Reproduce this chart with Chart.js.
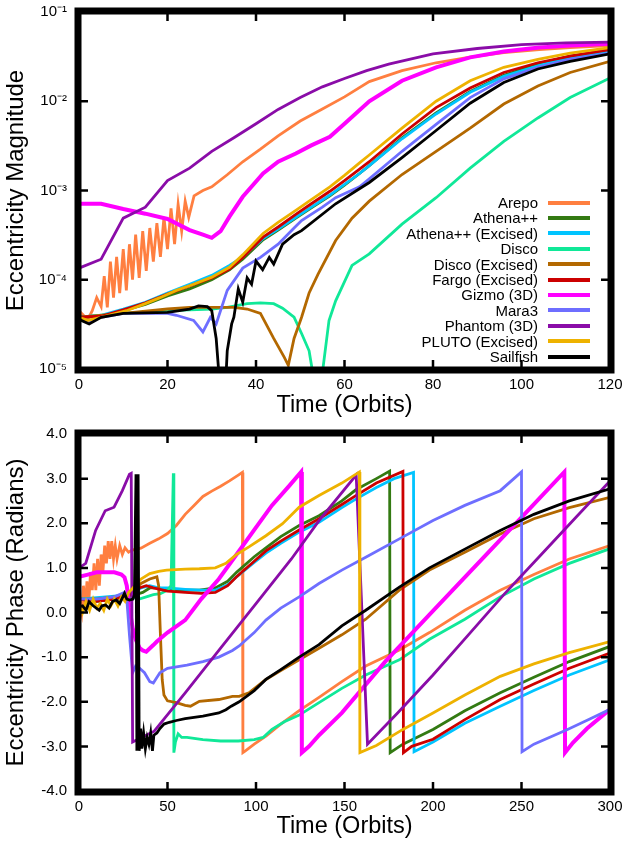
<!DOCTYPE html>
<html>
<head>
<meta charset="utf-8">
<title>Eccentricity magnitude and phase</title>
<script src="https://cdn.jsdelivr.net/npm/chart.js@4.4.0/dist/chart.umd.min.js"></script>
<style>
  body { margin: 0; background: #fff; }
  #wrap { position: relative; width: 623px; height: 845px; font-family: "Liberation Sans", Arial, sans-serif; }
  #magChart { position: absolute; left: 0; top: 0; }
  #phaseChart { position: absolute; left: 0; top: 420px; }
  #legend { position: absolute; right: 33px; top: 195px; }
  .row { display: flex; justify-content: flex-end; align-items: center; height: 15.4px; font-size: 15px; line-height: 15.4px; color: #000; white-space: nowrap; }
  .swatch { width: 42px; height: 4px; margin-left: 10px; }
</style>
</head>
<body>
<div id="wrap">
  <canvas id="magChart" width="623" height="420"></canvas>
  <canvas id="phaseChart" width="623" height="425"></canvas>
  <div id="legend"></div>
</div>
<script>
// ---- series names and colours (legend order) ----
const seriesNames = ['Arepo', 'Athena++', 'Athena++ (Excised)', 'Disco', 'Disco (Excised)', 'Fargo (Excised)',
                     'Gizmo (3D)', 'Mara3', 'Phantom (3D)', 'PLUTO (Excised)', 'Sailfish'];
const seriesColors = ['#ff7f40', '#337a12', '#00c4ff', '#10e898', '#b36800', '#cc0000',
                      '#ff00ff', '#6e6eff', '#8a0ca8', '#eeb200', '#000000'];

// ---- tick values / labels ----
const magXTicks = [0, 20, 40, 60, 80, 100, 120];
const magYTicks = [1e-5, 1e-4, 1e-3, 1e-2, 1e-1];
const magYLabels = ['10⁻⁵', '10⁻⁴', '10⁻³', '10⁻²', '10⁻¹'];
const phaseXTicks = [0, 50, 100, 150, 200, 250, 300];
const phaseYTicks = [-4, -3, -2, -1, 0, 1, 2, 3, 4];
const phaseYLabels = ['-4.0', '-3.0', '-2.0', '-1.0', '0.0', '1.0', '2.0', '3.0', '4.0'];

// ---- top panel: eccentricity magnitude, [time (orbits), |e|] ----
const arepoMag = [[0,4.5e-5],[1,4.0e-5],[2,3.6e-5],[3,4.5e-5],[4,6.3e-5],[5,5.0e-5],[5.7,1.1e-4],[6.4,4.9e-5],[7.1,1.6e-4],[7.8,6.3e-5],[8.5,1.8e-4],[9.2,7.1e-5],[10,2.2e-4],[10.7,7.6e-5],[11.4,2.5e-4],[12.1,1.0e-4],[12.8,3.2e-4],[13.6,1.05e-4],[14.4,3.5e-4],[15.2,1.26e-4],[16,3.8e-4],[16.8,1.6e-4],[17.6,4.3e-4],[18.4,1.8e-4],[19.2,5.0e-4],[20,2.2e-4],[20.8,6.3e-4],[21.6,2.5e-4],[22.4,7.0e-4],[23.2,3.5e-4],[24,7.6e-4],[24.8,5.0e-4],[26,8.7e-4],[28,1.0e-3],[30,1.1e-3],[33.5,1.5e-3],[37,2.1e-3],[41,2.9e-3],[45,4.1e-3],[50,6.0e-3],[55,8.2e-3],[60,1.12e-2],[65.6,1.66e-2],[73,2.2e-2],[80.7,2.7e-2],[88,3.1e-2],[96,3.5e-2],[104,3.8e-2],[111,4.0e-2],[120,4.2e-2]];
const athenaMag = [[0,3.8e-5],[5,3.9e-5],[10,4.5e-5],[15,5.3e-5],[20,6.6e-5],[25,7.9e-5],[30,1.0e-4],[34,1.29e-4],[37,1.7e-4],[41.6,2.8e-4],[45,3.6e-4],[49,4.9e-4],[52.5,6.4e-4],[56.7,8.7e-4],[60,1.15e-3],[63.4,1.55e-3],[65.6,1.9e-3],[73,3.9e-3],[80.7,7.4e-3],[88.4,1.29e-2],[96,1.95e-2],[103.7,2.6e-2],[111,3.2e-2],[120,3.7e-2]];
const athenaExMag = [[0,3.8e-5],[5,4.0e-5],[10,4.7e-5],[15,5.6e-5],[20,7.1e-5],[25,8.9e-5],[30,1.12e-4],[34,1.45e-4],[37,1.8e-4],[41.6,2.9e-4],[45,3.7e-4],[49,5.0e-4],[52.5,6.5e-4],[56.7,8.9e-4],[60,1.17e-3],[63.4,1.55e-3],[65.6,1.9e-3],[73,3.8e-3],[80.7,7.2e-3],[88.4,1.26e-2],[96,1.9e-2],[103.7,2.5e-2],[111,3.1e-2],[120,3.6e-2]];
const discoMag = [[0,3.8e-5],[10,4.2e-5],[20,4.5e-5],[30,4.7e-5],[33.5,4.9e-5],[38,5.4e-5],[41,5.5e-5],[44,5.4e-5],[46,4.8e-5],[48.6,3.8e-5],[50.3,2.5e-5],[52,1.6e-5],[53,8e-6],[54,5e-6],[55,9e-6],[56.5,3.5e-5],[58,5.8e-5],[61.7,1.45e-4],[65.6,1.95e-4],[73,4.2e-4],[80.7,8.3e-4],[88.4,1.78e-3],[96,3.55e-3],[103.7,6.5e-3],[111,1.1e-2],[120,1.82e-2]];
const discoExMag = [[0,3.8e-5],[10,4.2e-5],[20,4.7e-5],[25,4.9e-5],[30,4.9e-5],[35,4.9e-5],[38,4.7e-5],[41,4.2e-5],[44,2.2e-5],[46.4,1.35e-5],[47.3,1.1e-5],[48.6,2.2e-5],[50.3,3.8e-5],[52,7.1e-5],[54,1.15e-4],[58,2.75e-4],[61.7,4.9e-4],[65.6,7.6e-4],[73,1.51e-3],[80.7,2.75e-3],[88.4,5.0e-3],[96,9.3e-3],[103.7,1.48e-2],[111,2.1e-2],[120,2.8e-2]];
const fargoMag = [[0,3.8e-5],[5,3.9e-5],[10,4.6e-5],[15,5.5e-5],[20,6.9e-5],[25,8.5e-5],[30,1.05e-4],[34,1.32e-4],[37,1.78e-4],[41.6,3.0e-4],[45,3.9e-4],[49,5.4e-4],[52.5,7.1e-4],[56.7,9.8e-4],[60,1.29e-3],[63.4,1.74e-3],[65.6,2.1e-3],[73,4.3e-3],[80.7,8.5e-3],[88.4,1.41e-2],[96,2.1e-2],[103.7,2.7e-2],[111,3.2e-2],[120,3.8e-2]];
const gizmoMag = [[0,7.1e-4],[5,7.1e-4],[10,6.2e-4],[15,5.5e-4],[20,4.8e-4],[25,3.6e-4],[28,3.2e-4],[30,2.95e-4],[32,3.5e-4],[34,5.1e-4],[37,8.5e-4],[41.6,1.55e-3],[45,2.1e-3],[49,2.6e-3],[52.5,3.2e-3],[56.7,4.0e-3],[60,5.6e-3],[65.6,1.0e-2],[73,1.7e-2],[80.7,2.4e-2],[88.4,3.1e-2],[96,3.6e-2],[104,4.0e-2],[111,4.2e-2],[120,4.4e-2]];
const mara3Mag = [[0,3.8e-5],[2,3.3e-5],[5,3.8e-5],[10,4.2e-5],[15,4.2e-5],[20,4.2e-5],[22,4.0e-5],[25.9,3.5e-5],[28,2.6e-5],[29.7,3.8e-5],[31,3.2e-5],[33.5,7.6e-5],[37,1.35e-4],[41,1.78e-4],[45,2.5e-4],[48.6,3.8e-4],[50.3,4.6e-4],[55,6.5e-4],[58,8.3e-4],[63.4,1.1e-3],[65.6,1.35e-3],[73,2.75e-3],[80.7,5.5e-3],[88.4,1.1e-2],[96,1.78e-2],[103.7,2.4e-2],[111,2.95e-2],[120,3.47e-2]];
const phantomMag = [[0,1.35e-4],[5,1.7e-4],[10,4.9e-4],[15,6.5e-4],[20,1.29e-3],[25,1.78e-3],[30,2.75e-3],[35,3.9e-3],[40,5.6e-3],[45,8.1e-3],[50,1.1e-2],[55,1.45e-2],[60,1.8e-2],[65,2.2e-2],[70,2.6e-2],[80,3.4e-2],[90,3.9e-2],[100,4.3e-2],[110,4.5e-2],[120,4.6e-2]];
const plutoMag = [[0,3.8e-5],[2,3.5e-5],[5,3.8e-5],[10.7,4.5e-5],[15,5.4e-5],[18.3,6.3e-5],[22,7.6e-5],[25.9,8.9e-5],[30,1.07e-4],[34,1.38e-4],[37,1.9e-4],[41.6,3.3e-4],[45,4.4e-4],[49,6.0e-4],[52.5,7.9e-4],[56.7,1.1e-3],[60,1.48e-3],[63.4,2.04e-3],[65.6,2.5e-3],[73,5.0e-3],[80.7,1.0e-2],[88.4,1.7e-2],[96,2.4e-2],[103.7,2.95e-2],[111,3.47e-2],[120,4.0e-2]];
const sailfishMag = [[0,3.6e-5],[2.3,3.2e-5],[5,3.8e-5],[10,4.2e-5],[20,4.3e-5],[25,4.7e-5],[27,5.1e-5],[29,5.0e-5],[30,4.5e-5],[31,2.2e-5],[32,5e-6],[33,5e-6],[33.5,1.6e-5],[34.5,3.2e-5],[35,3.8e-5],[36,7.9e-5],[37,5.6e-5],[38,1.05e-4],[39,8.9e-5],[40,1.62e-4],[41.5,1.3e-4],[43,1.78e-4],[44,1.5e-4],[46,2.5e-4],[48.6,3.2e-4],[50.3,3.55e-4],[58,7.1e-4],[65.6,1.23e-3],[73,2.34e-3],[80.7,4.7e-3],[88.4,9.5e-3],[96,1.62e-2],[103.7,2.3e-2],[111,2.8e-2],[120,3.4e-2]];

// ---- bottom panel: eccentricity phase, [time (orbits), radians] ----
const arepoPhase = [[0,0.3],[1.5,0.0],[2.5,0.6],[3.5,0.1],[4.5,0.7],[5.5,0.2],[6.5,0.9],[7.5,0.5],[8.5,1.1],[9.5,0.5],[10.5,1.2],[11.5,0.6],[12.5,1.3],[13.5,0.9],[14.5,1.5],[15.5,1.1],[16.5,1.6],[17.5,1.2],[18.5,1.6],[19.5,1.2],[20.5,1.5],[21.5,1.2],[23,1.5],[24.5,1.3],[26,1.45],[28,1.35],[30,1.4],[35,1.44],[40,1.55],[45,1.65],[50,1.77],[55,1.95],[60,2.2],[65,2.4],[70,2.6],[75,2.72],[80,2.83],[85,2.95],[90,3.08],[92.3,3.14],[92.6,-3.14],[94,-3.1],[99,-2.95],[105.6,-2.77],[114,-2.5],[124.4,-2.2],[135.6,-1.9],[148.5,-1.55],[162,-1.2],[181,-0.84],[198,-0.45],[218,0.05],[238,0.5],[257,0.85],[277,1.2],[300,1.5]];
const athenaPhase = [[0,0.3],[10,0.25],[20,0.3],[28,0.4],[32,0.4],[36,0.45],[40,0.55],[45,0.55],[50,0.5],[60,0.5],[68,0.5],[77,0.55],[84,0.7],[89,0.9],[99,1.25],[105.6,1.45],[114,1.7],[124.4,1.95],[135.6,2.17],[148.5,2.5],[156.4,2.75],[168,3.0],[175.5,3.17],[175.8,-3.14],[183,-2.95],[200,-2.62],[218,-2.2],[238,-1.8],[257,-1.45],[277,-1.1],[300,-0.76]];
const athenaExPhase = [[0,0.3],[30,0.4],[35,0.55],[40,0.6],[45,0.55],[50,0.55],[60,0.52],[69,0.5],[77,0.5],[84,0.62],[89,0.8],[99,1.12],[105.6,1.33],[114,1.55],[124.4,1.8],[135.6,2.02],[148.5,2.35],[156.4,2.54],[168,2.8],[178,3.0],[189,3.14],[189.3,-3.12],[200,-2.9],[218,-2.48],[238,-2.1],[257,-1.75],[277,-1.4],[300,-1.06]];
const discoPhase = [[0,0.3],[10,0.3],[20,0.3],[30,0.35],[34,0.3],[38,0.35],[42,0.4],[46,0.42],[50,0.5],[52,0.6],[53.3,3.12],[53.6,-3.14],[54.5,-2.9],[56,-2.72],[58,-2.8],[61,-2.8],[65,-2.82],[70,-2.85],[80,-2.88],[90,-2.88],[99,-2.85],[104,-2.8],[109,-2.62],[116,-2.45],[124.4,-2.3],[135.6,-2.02],[148.5,-1.7],[162,-1.4],[181,-1.06],[198,-0.6],[218,-0.15],[238,0.35],[257,0.75],[277,1.1],[300,1.43]];
const discoExPhase = [[0,0.3],[10,0.3],[20,0.35],[30,0.45],[35,0.65],[40,0.75],[44,0.8],[45,0.6],[46,-0.5],[47,-1.5],[48,-1.85],[50,-1.98],[55,-2.02],[60,-2.08],[63,-2.1],[68,-1.99],[79,-1.95],[86.7,-1.88],[90.5,-1.88],[96,-1.8],[105.6,-1.5],[114,-1.3],[124.4,-1.06],[135.6,-0.8],[148.5,-0.5],[162,-0.15],[181,0.5],[198,0.95],[218,1.35],[238,1.76],[257,2.1],[277,2.35],[300,2.58]];
const fargoPhase = [[0,0.3],[10,0.25],[20,0.3],[30,0.4],[34,0.55],[38,0.6],[42,0.55],[50,0.48],[60,0.45],[69,0.43],[77,0.45],[84,0.6],[89,0.8],[99,1.15],[105.6,1.38],[114,1.6],[124.4,1.85],[135.6,2.1],[148.5,2.42],[156.4,2.62],[168,2.9],[183,3.16],[183.3,-3.14],[188,-3.0],[200,-2.84],[218,-2.4],[238,-1.95],[257,-1.6],[277,-1.25],[300,-0.91]];
const gizmoPhase = [[0,0.8],[5,0.85],[10,0.9],[15,0.9],[20,0.9],[24,0.85],[25.7,0.79],[27,0.6],[28.5,0.1],[30.3,-0.35],[32,-0.6],[34.3,-0.8],[36,-0.85],[38,-0.88],[42,-0.73],[44,-0.65],[50,-0.45],[60,-0.17],[69,0.3],[79,0.75],[89,1.3],[99,1.85],[109,2.4],[119,2.85],[125.5,3.15],[125.9,-3.14],[130,-3.0],[135.6,-2.75],[148.5,-2.25],[173,-1.1],[198,-0.05],[223,1.0],[248,2.05],[274.2,3.15],[274.6,-3.14],[279,-2.92],[287,-2.6],[300,-2.17]];
const mara3Phase = [[0,0.3],[10,0.3],[20,0.35],[25.7,0.45],[27,0.3],[28.5,-0.5],[30.3,-1.35],[32,-1.2],[34.3,-1.25],[37,-1.35],[40,-1.55],[42,-1.58],[45.7,-1.35],[50,-1.25],[61,-1.18],[70,-1.1],[79,-1.0],[86.7,-0.85],[90.5,-0.75],[99,-0.45],[105.6,-0.17],[114,0.1],[124.4,0.35],[135.6,0.65],[148.5,0.95],[162,1.24],[181,1.65],[200,2.06],[218,2.4],[238,2.73],[250,3.15],[250.3,-3.12],[257,-2.95],[276,-2.62],[288,-2.4],[300,-2.17]];
const phantomPhase = [[0,1.0],[3.8,1.1],[9.4,1.84],[14.8,2.28],[19.8,2.36],[24.5,2.73],[28.5,3.1],[29.5,3.12],[30.3,-2.9],[42.5,-2.66],[60,-1.8],[80,-0.8],[100,0.2],[120,1.2],[135.6,2.06],[156.6,3.08],[163,-2.95],[180,-2.25],[200,-1.4],[220,-0.5],[240,0.4],[260,1.25],[280,2.1],[300,2.95]];
const plutoPhase = [[0,0.2],[2,0.0],[4,0.25],[6,0.05],[8,0.3],[10,0.1],[12,0.2],[14,0.05],[16,0.3],[18,0.15],[20,0.3],[22,0.15],[24,0.35],[26,0.25],[28,0.45],[30.5,0.55],[35,0.75],[40,0.87],[45,0.92],[49.5,0.95],[60,0.97],[68,0.98],[77,1.0],[83,1.1],[89,1.3],[96,1.47],[105.6,1.72],[115,1.99],[124.4,2.36],[135.6,2.62],[148.5,2.9],[158.4,3.15],[158.7,-3.14],[168,-2.98],[183,-2.62],[200,-2.25],[218,-1.85],[238,-1.43],[257,-1.15],[277,-0.9],[300,-0.65]];
const sailfishPhase = [[0,0.13],[2,0.15],[4,0.05],[5.7,0.24],[8,0.15],[11.4,0.05],[13,0.15],[15,0.17],[17,0.1],[19,0.25],[21,0.28],[23,0.2],[25.7,0.43],[27,0.3],[28.6,0.28],[30.5,0.3],[31.3,0.4],[32.2,3.1],[32.7,-3.1],[33.4,3.1],[34,-3.1],[34.8,-2.6],[35.5,-3.05],[36.5,-2.7],[37.5,-3.05],[38.5,-2.8],[39.5,-2.95],[40.5,-2.7],[41.5,-3.1],[42.3,-2.75],[44,-2.7],[45.7,-2.6],[48,-2.5],[51,-2.46],[55,-2.42],[60,-2.38],[70,-2.32],[79,-2.25],[83,-2.18],[86,-2.1],[90.5,-2.0],[99,-1.75],[105.6,-1.5],[114,-1.28],[124.4,-1.0],[135.6,-0.72],[148.5,-0.3],[162,0.05],[181,0.57],[198,1.0],[218,1.42],[238,1.84],[257,2.2],[277,2.5],[300,2.77]];

const magSeries = [arepoMag, athenaMag, athenaExMag, discoMag, discoExMag, fargoMag, gizmoMag, mara3Mag, phantomMag, plutoMag, sailfishMag];
const phaseSeries = [arepoPhase, athenaPhase, athenaExPhase, discoPhase, discoExPhase, fargoPhase, gizmoPhase, mara3Phase, phantomPhase, plutoPhase, sailfishPhase];

const fontFamily = '"Liberation Sans", Arial, Helvetica, sans-serif';
Chart.defaults.font.family = fontFamily;
Chart.defaults.color = '#000';

// thick frame plus inward tick marks on all four sides
const framePlugin = {
    id: 'frame',
    afterDatasetsDraw(chart) {
        const { ctx, chartArea: a, scales } = chart;
        ctx.save();
        ctx.strokeStyle = '#000';
        ctx.lineWidth = 2.5;
        const tl = 9;
        scales.x.ticks.forEach(t => {
            const px = scales.x.getPixelForValue(t.value);
            ctx.beginPath();
            ctx.moveTo(px, a.bottom); ctx.lineTo(px, a.bottom - tl);
            ctx.moveTo(px, a.top); ctx.lineTo(px, a.top + tl);
            ctx.stroke();
        });
        scales.y.ticks.forEach(t => {
            const py = scales.y.getPixelForValue(t.value);
            ctx.beginPath();
            ctx.moveTo(a.left, py); ctx.lineTo(a.left + tl, py);
            ctx.moveTo(a.right, py); ctx.lineTo(a.right - tl, py);
            ctx.stroke();
        });
        ctx.lineWidth = 7;
        ctx.strokeRect(a.left - 1, a.top - 1, a.right - a.left + 2, a.bottom - a.top + 2);
        ctx.restore();
    }
};

function makeDatasets(series) {
    return series.map((pts, i) => ({
        label: seriesNames[i],
        data: pts.map(p => ({ x: p[0], y: p[1] })),
        borderColor: seriesColors[i],
        backgroundColor: seriesColors[i],
        borderWidth: seriesNames[i] === 'Gizmo (3D)' ? 4 : 2.8,
        pointRadius: 0,
        tension: 0,
        fill: false,
        order: series.length - i // later series drawn on top, Sailfish last
    }));
}

function makeChart(canvasId, series, cfg) {
    return new Chart(document.getElementById(canvasId), {
        type: 'line',
        data: { datasets: makeDatasets(series) },
        options: {
            responsive: false,
            animation: false,
            events: [],
            layout: { padding: { left: 0, right: 13, top: cfg.top, bottom: 0 } },
            plugins: { legend: { display: false }, tooltip: { enabled: false } },
            scales: {
                x: {
                    type: 'linear', min: cfg.xMin, max: cfg.xMax,
                    afterBuildTicks: s => { s.ticks = cfg.xTicks.map(v => ({ value: v })); },
                    afterFit: s => { s.height = cfg.xHeight; s.paddingLeft = 0; s.paddingRight = 0; },
                    grid: { display: false, drawTicks: false },
                    border: { display: false },
                    ticks: { font: { size: 15 }, color: '#000', padding: 7, maxRotation: 0, autoSkip: false },
                    title: { display: true, text: 'Time (Orbits)', font: { size: 23.5 }, color: '#000', padding: { top: 0, bottom: cfg.xTitlePad } }
                },
                y: {
                    type: cfg.yType, min: cfg.yMin, max: cfg.yMax,
                    afterBuildTicks: s => { s.ticks = cfg.yTicks.map(v => ({ value: v })); },
                    afterFit: s => { s.width = 79; s.paddingTop = 0; s.paddingBottom = 0; },
                    grid: { display: false, drawTicks: false },
                    border: { display: false },
                    ticks: { font: { size: 15 }, color: '#000', padding: 12, autoSkip: false,
                             callback: (v, i) => cfg.yLabels[i] },
                    title: { display: true, text: cfg.yTitle, font: { size: 24 }, color: '#000', padding: { top: 2, bottom: 0 } }
                }
            }
        },
        plugins: [framePlugin]
    });
}

makeChart('magChart', magSeries, {
    top: 12, xHeight: 51, xTitlePad: 0,
    xMin: 0, xMax: 120, xTicks: magXTicks,
    yType: 'logarithmic', yMin: 1e-5, yMax: 1e-1, yTicks: magYTicks, yLabels: magYLabels,
    yTitle: 'Eccentricity Magnitude'
});

makeChart('phaseChart', phaseSeries, {
    top: 14, xHeight: 54, xTitlePad: 4,
    xMin: 0, xMax: 300, xTicks: phaseXTicks,
    yType: 'linear', yMin: -4, yMax: 4, yTicks: phaseYTicks, yLabels: phaseYLabels,
    yTitle: 'Eccentricity Phase (Radians)'
});

// legend for the top panel, right-aligned text followed by a line sample
const legendBox = document.getElementById('legend');
seriesNames.forEach((name, i) => {
    const row = document.createElement('div');
    row.className = 'row';
    const txt = document.createElement('span');
    txt.textContent = name;
    const sw = document.createElement('span');
    sw.className = 'swatch';
    sw.style.background = seriesColors[i];
    row.appendChild(txt);
    row.appendChild(sw);
    legendBox.appendChild(row);
});
</script>
</body>
</html>
